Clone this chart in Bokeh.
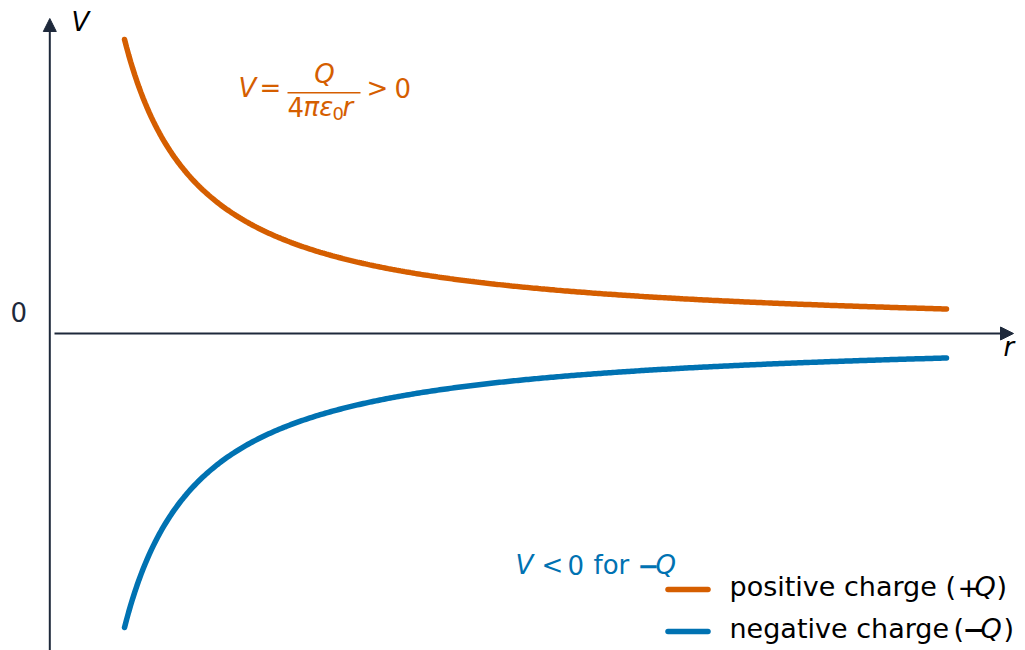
import numpy as np
from bokeh.plotting import figure
from bokeh.models import Range1d, Arrow, NormalHead, Label, BoxAnnotation
from bokeh.embed import file_html
from bokeh.resources import INLINE

# Potential of a point charge, in units of Q / (4*pi*eps0), versus distance r
r_min, r_max = 0.5, 6.0
r = np.linspace(r_min, r_max, 400)
V_pos = 1.0 / r          # +Q
V_neg = -1.0 / r         # -Q

ORANGE = "#d55e00"
BLUE = "#0072b2"
AXIS = "#1e293b"
FONT = "DejaVu Sans"

W, H = 1025, 650
x0, x1 = -0.3299, 6.5286
y0, y1 = -2.1565, 2.2653

p = figure(width=W, height=H, output_backend="svg", toolbar_location=None,
           x_range=Range1d(x0, x1), y_range=Range1d(y0, y1),
           x_axis_location=None, y_axis_location=None, min_border=0)
p.outline_line_color = None
p.grid.visible = False


def dx(px):
    return x0 + (x1 - x0) * px / W


def dy(py):
    return y1 - (y1 - y0) * py / H


# axes with arrow heads
p.add_layout(Arrow(x_start=0, y_start=y0, x_end=0, y_end=dy(18),
                   line_color=AXIS, line_width=2,
                   end=NormalHead(size=13, fill_color=AXIS, line_color=AXIS)))
p.add_layout(Arrow(x_start=dx(54), y_start=0, x_end=dx(1013), y_end=0,
                   line_color=AXIS, line_width=2,
                   end=NormalHead(size=13, fill_color=AXIS, line_color=AXIS)))

# curves
p.line(r, V_pos, line_color=ORANGE, line_width=5.5, line_cap="round")
p.line(r, V_neg, line_color=BLUE, line_width=5.5, line_cap="round")


def put(text, px, py, color="black", style="normal", size=26, align="left"):
    # px, py: left edge and baseline, measured from the top-left corner
    p.add_layout(Label(x=px, y=H - py + 0.4 * size,
                       x_units="screen", y_units="screen",
                       text=text, text_color=color, text_font=FONT,
                       text_font_size=f"{size}px", text_align=align,
                       text_baseline="alphabetic", text_font_style=style))


# axis labels
put("V", 71, 32, style="italic")
put("r", 1003, 357, style="italic")
put("0", 10, 322, color=AXIS)

# formula for the positive charge
put("V", 238, 98, ORANGE, "italic")
put("=", 259, 98, ORANGE)
p.add_layout(BoxAnnotation(left=287, right=360, bottom=H - 93, top=H - 91.5,
                           left_units="screen", right_units="screen",
                           bottom_units="screen", top_units="screen",
                           fill_color=ORANGE, fill_alpha=1, line_color=None))
put("Q", 324, 84, ORANGE, "italic", align="center")
put("4", 287, 117, ORANGE)
put("πε", 303, 117, ORANGE, "italic")
put("0", 332, 120, ORANGE, size=18)
put("r", 342, 117, ORANGE, "italic")
put(">", 366, 98, ORANGE)
put("0", 394, 98, ORANGE)

# note for the negative charge
put("V", 515, 575, BLUE, "italic")
put("<", 541, 575, BLUE)
put("0", 567, 575, BLUE)
put("for", 593, 575, BLUE)
put("−", 637, 575, BLUE, "bold")
put("Q", 655, 575, BLUE, "italic")

# legend
p.segment(x0=[dx(667.5), dx(667.5)], y0=[dy(589), dy(631)],
          x1=[dx(707.5), dx(707.5)], y1=[dy(589), dy(631)],
          line_color=[ORANGE, BLUE], line_width=5.5, line_cap="round")
put("positive charge", 729, 597, size=27)
put("(", 945, 597, size=27)
put("+", 957, 597, size=27)
put("Q", 974, 597, style="italic", size=27)
put(")", 996, 597, size=27)
put("negative charge", 729, 639, size=27)
put("(", 953, 639, size=27)
put("−", 962, 639, style="bold", size=27)
put("Q", 980, 639, style="italic", size=27)
put(")", 1003, 639, size=27)

open("out.html", "w").write(file_html(p, INLINE))
